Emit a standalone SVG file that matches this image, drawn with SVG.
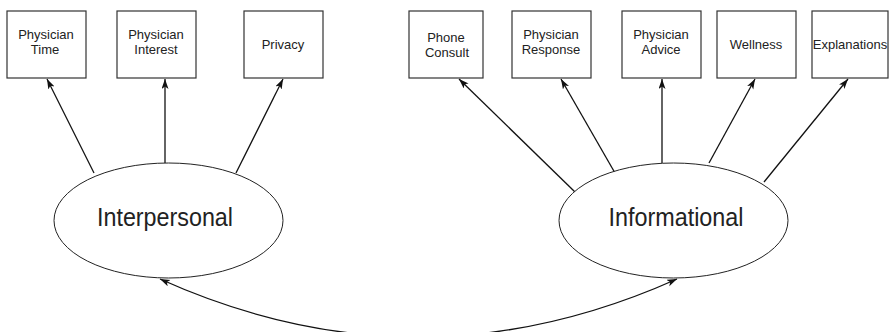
<svg xmlns="http://www.w3.org/2000/svg" width="889" height="332" viewBox="0 0 889 332">
<style>
.box{fill:#fff;stroke:#333;stroke-width:1.2}
.ell{fill:#fff;stroke:#222;stroke-width:1}
.t{font-family:"Liberation Sans",Arial,sans-serif;font-size:13px;fill:#222;text-anchor:middle}
.big{font-family:"Liberation Sans",Arial,sans-serif;font-size:26px;fill:#222;text-anchor:middle}
.arr{fill:none;stroke:#111;stroke-width:1.3}
</style>
<defs>
<marker id="ah" markerUnits="userSpaceOnUse" markerWidth="10" markerHeight="8" refX="10" refY="3.5" orient="auto-start-reverse">
<path d="M0,0 L10,3.5 L0,7 L2.5,3.5 z" fill="#111"/>
</marker>
</defs>
<rect width="889" height="332" fill="#fff"/>
<g id="connectors">
<line class="arr" x1="94" y1="173" x2="47" y2="79" marker-end="url(#ah)"/>
<line class="arr" x1="165" y1="163" x2="165" y2="79" marker-end="url(#ah)"/>
<line class="arr" x1="236" y1="173" x2="283" y2="79" marker-end="url(#ah)"/>
<line class="arr" x1="575" y1="192" x2="459" y2="79" marker-end="url(#ah)"/>
<line class="arr" x1="615" y1="173" x2="561" y2="79" marker-end="url(#ah)"/>
<line class="arr" x1="662" y1="163" x2="662" y2="79" marker-end="url(#ah)"/>
<line class="arr" x1="709" y1="163" x2="755" y2="79" marker-end="url(#ah)"/>
<line class="arr" x1="764" y1="182" x2="848" y2="79" marker-end="url(#ah)"/>
<path class="arr" d="M160,279 Q418,395 677,279" marker-start="url(#ah)" marker-end="url(#ah)"/>
</g>
<g id="physician-time"><rect class="box" x="7" y="11" width="79" height="67"/><text class="t" x="46" y="39">Physician</text><text class="t" x="45" y="54">Time</text></g>
<g id="physician-interest"><rect class="box" x="117" y="11" width="79" height="67"/><text class="t" x="156" y="39">Physician</text><text class="t" x="156" y="54">Interest</text></g>
<g id="privacy"><rect class="box" x="244" y="11" width="79" height="67"/><text class="t" x="283" y="49">Privacy</text></g>
<g id="phone-consult"><rect class="box" x="409" y="11" width="74" height="67"/><text class="t" x="446" y="42">Phone</text><text class="t" x="447" y="57">Consult</text></g>
<g id="physician-response"><rect class="box" x="512" y="11" width="79" height="67"/><text class="t" x="551" y="39">Physician</text><text class="t" x="551" y="54">Response</text></g>
<g id="physician-advice"><rect class="box" x="622" y="11" width="79" height="67"/><text class="t" x="661" y="39">Physician</text><text class="t" x="661" y="54">Advice</text></g>
<g id="wellness"><rect class="box" x="717" y="11" width="79" height="67"/><text class="t" x="756" y="49">Wellness</text></g>
<g id="explanations"><rect class="box" x="812" y="11" width="76" height="67"/><text class="t" x="850" y="49">Explanations</text></g>
<g id="interpersonal"><ellipse class="ell" cx="168.5" cy="220.5" rx="114.5" ry="57.5"/><text class="big" x="165" y="226" textLength="136" lengthAdjust="spacingAndGlyphs">Interpersonal</text></g>
<g id="informational"><ellipse class="ell" cx="673.5" cy="220.5" rx="114.5" ry="57.5"/><text class="big" x="676" y="226" textLength="135" lengthAdjust="spacingAndGlyphs">Informational</text></g>
</svg>
